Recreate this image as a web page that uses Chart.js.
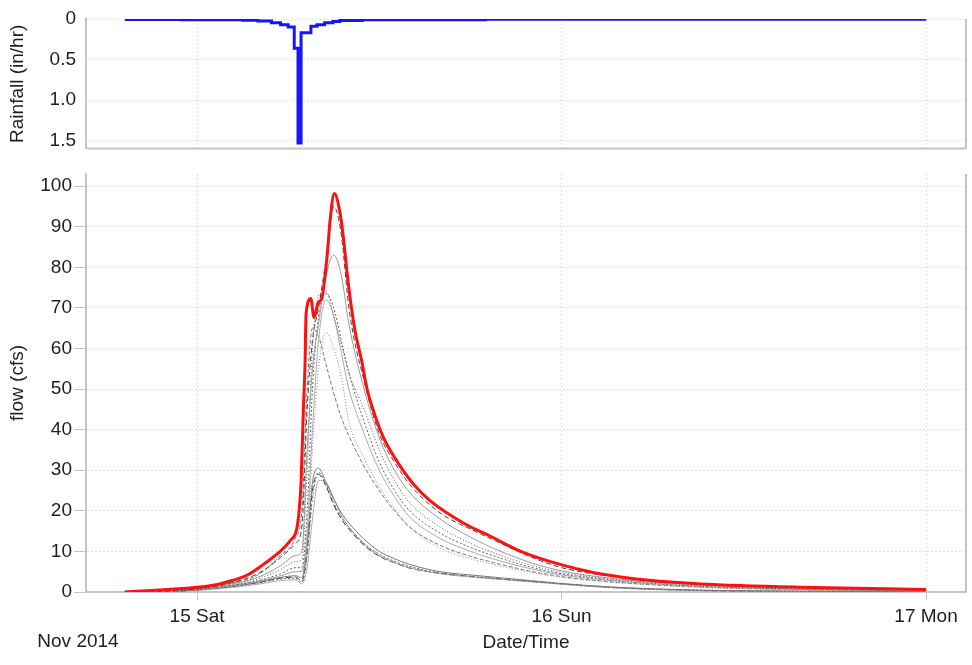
<!DOCTYPE html>
<html><head><meta charset="utf-8">
<script src="https://cdn.jsdelivr.net/npm/chart.js@4.4.1/dist/chart.umd.min.js"></script>
<style>
html,body{margin:0;padding:0;background:#fff;}
#wrap{position:relative;width:972px;height:665px;overflow:hidden;}
#c1{position:absolute;left:0;top:0;}
#c2{position:absolute;left:0;top:160px;}
</style></head><body>
<div id="wrap">
<canvas id="c1" width="972" height="160"></canvas>
<canvas id="c2" width="972" height="505"></canvas>
</div>
<script>
// ---- data (hours from 15 Nov 2014 00:00) ----
const xTickValues = [0, 24, 48];
const xTickLabels = ['15 Sat', '16 Sun', '17 Mon'];
const monthLabel = 'Nov 2014';

const rainTickValues = [0, 0.5, 1.0, 1.5];
const rainTickLabels = ['0', '0.5', '1.0', '1.5'];
const flowTickValues = [0,10,20,30,40,50,60,70,80,90,100];
const flowTickLabels = ['0','10','20','30','40','50','60','70','80','90','100'];

// rainfall (in/hr), stepped: value holds from time until next time
const rainTimes = [-4.75, -1.0, 3.0, 4.0, 4.9, 5.5, 6.0, 6.4, 6.65, 6.85, 7.5, 7.9, 8.4, 8.95, 9.4, 10.9, 19.0, 48];
const rainValues = [0.006, 0.009, 0.014, 0.025, 0.045, 0.07, 0.1, 0.36, 1.53, 0.17, 0.09, 0.07, 0.045, 0.03, 0.018, 0.01, 0.004, 0.004];

// observed flow (cfs), red
const redTimes = [-4.75, -2.44, -0.68, 1.05, 2.37, 3.27, 4.37, 5.47, 6.12, 6.56, 6.72, 6.85, 7.0, 7.11, 7.18, 7.49, 7.70, 7.99, 8.21, 8.58, 8.76, 9.04, 9.42, 9.63, 9.86, 10.07, 10.40, 10.84, 11.17, 11.61, 12.27, 13.15, 14.24, 15.34, 17.53, 19.29, 21.27, 23.9, 26.09, 28.51, 30.93, 33.12, 39.7, 48];
const redFlow = [0, 0.5, 0.9, 1.65, 2.9, 4.1, 6.8, 10, 12.6, 15.5, 20, 27, 44.7, 56, 68.6, 72.3, 67.7, 71.4, 72.3, 83.4, 91.6, 98.2, 93.3, 87.5, 79.3, 72.7, 64.4, 57, 50.4, 44.7, 38.1, 32.3, 26.6, 22.5, 17.0, 13.8, 10.1, 6.8, 4.8, 3.4, 2.5, 2.0, 1.2, 0.6];

// simulated flows (cfs), gray
const simTimes = [-4.75, -2, 0, 2, 4, 5.5, 6.5, 6.9, 7.25, 7.6, 8, 8.5, 9, 9.5, 10, 11, 12, 13, 14, 16, 18, 20, 22, 24, 27, 30, 34, 40, 48];
const sim1  = [0,0.2,0.8,2.0,4.5,8.5,12,16,45,62,70,82,95,88,70,52,39,32,26.5,19.5,15.5,12,8.6,6.0,4.0,2.7,1.8,1.1,0.5];
const sim2  = [0,0.2,0.8,1.8,3.6,6.5,9,10,35,55,66,78,83,78,66,50,38,30,24.5,18,13.5,10,7.2,5.2,3.5,2.4,1.6,0.9,0.4];
const sim3  = [0,0.2,0.7,1.6,3.2,5.5,7.5,8,30,60,73,74,68,61,54,45,35,27.5,22,16,12,9,6.6,4.8,3.3,2.3,1.5,0.8,0.4];
const sim4  = [0,0.1,0.6,1.5,2.8,4.5,6,6,20,50,68,73.5,70,62,54,42,32,25,20,14.5,11,8.3,6.1,4.5,3.1,2.1,1.3,0.7,0.3];
const sim5  = [0,0.1,0.6,1.4,2.6,4,5,5,15,40,62,72,68,59,50,39,30,23.5,18.5,13.2,10,7.6,5.7,4.2,2.9,2.0,1.2,0.6,0.3];
const sim6  = [0,0.2,0.8,2.0,4.2,9,13.5,20,50,65,63,56,49,43,38.5,31,25,20,16,11.5,8.8,6.8,5.1,3.8,2.6,1.8,1.1,0.6,0.2];
const sim7  = [0,0.1,0.6,1.4,2.7,4,5,5.5,12,35,55,64,60,53,42,33,26,20.5,16,10.8,8.2,6.4,4.8,3.6,2.5,1.7,1.0,0.5,0.2];
const sim8  = [0,0.1,0.5,1.3,2.4,3.6,4,3.5,12,27,30.5,27,23,19.5,17,13,10,8.2,6.8,5,4.2,3.5,2.8,2.1,1.3,0.8,0.4,0.2,0.1];
const sim9  = [0,0.1,0.5,1.2,2.2,3.2,3.4,2.4,9,23,29.5,26.5,22,18.5,16,12,9.3,7.6,6.3,4.7,3.9,3.2,2.6,2,1.2,0.7,0.4,0.2,0.1];
const sim10 = [0,0.1,0.4,1.0,1.9,2.8,3,2.0,6,18,27.5,27,23,19,16,11.8,9,7.3,6,4.5,3.7,3.1,2.5,1.9,1.1,0.6,0.3,0.1,0];
const sim11 = [0,0.1,0.5,1.2,2.3,3.4,3.7,2.6,10,25,29,26,21.5,18,15.5,11.5,8.8,7.2,5.9,4.6,3.8,3.2,2.6,2,1.2,0.7,0.3,0.1,0];

// ---- styles ----
const X_MIN = -7.31, X_MAX = 50.63;
const FONT = {family: "'Liberation Sans', Arial, sans-serif", size: 19};
const TXT = '#1e1e1e';
const GRID = '#e0e0e0';
const AXIS = '#c4c4c4';

const frame = {
  id: 'frame',
  afterDatasetsDraw(chart, args, opts) {
    const {ctx, chartArea: a} = chart;
    ctx.save();
    ctx.strokeStyle = AXIS; ctx.lineWidth = 2;
    ctx.beginPath();
    ctx.moveTo(a.right, a.top); ctx.lineTo(a.right, a.bottom);
    if (opts.bottom) { ctx.moveTo(a.left, a.bottom); ctx.lineTo(a.right, a.bottom); }
    ctx.stroke();
    if (opts.month) {
      ctx.fillStyle = TXT;
      ctx.font = FONT.size + 'px ' + FONT.family;
      ctx.textAlign = 'center'; ctx.textBaseline = 'middle';
      ctx.fillText(opts.month, 78, 482);
    }
    ctx.restore();
  }
};

const pts = (xs, ys) => xs.map((x, i) => ({x, y: ys[i]}));

// ---- rainfall chart ----
new Chart(document.getElementById('c1'), {
  type: 'line',
  data: {datasets: [{
    data: pts(rainTimes, rainValues),
    borderColor: '#1414ff', borderWidth: 3, pointRadius: 0, stepped: 'before', fill: false
  }]},
  options: {
    responsive: false, animation: false,
    layout: {padding: {top: 19, bottom: 11, left: 0, right: 6}},
    plugins: {legend: {display: false}, tooltip: {enabled: false}, frame: {bottom: true}},
    scales: {
      x: {
        type: 'linear', min: X_MIN, max: X_MAX,
        afterBuildTicks: s => { s.ticks = xTickValues.map(v => ({value: v})); },
        ticks: {display: false},
        grid: {color: GRID, drawTicks: false},
        border: {display: false, dash: [2, 2]},
        afterFit: s => { s.height = 0; }
      },
      y: {
        min: 0, max: 1.6, reverse: true,
        afterBuildTicks: s => { s.ticks = rainTickValues.map(v => ({value: v})); },
        ticks: {callback: (v, i) => rainTickLabels[i], font: FONT, color: TXT, padding: 0},
        grid: {color: GRID, drawTicks: true, tickLength: 10, tickColor: 'rgba(0,0,0,0)'},
        border: {color: AXIS, width: 2, dash: [2, 2]},
        title: {display: true, text: 'Rainfall (in/hr)', font: FONT, color: TXT, padding: {top: 6, bottom: 0}},
        afterFit: s => { s.width = 86; }
      }
    }
  },
  plugins: [frame]
});

// ---- flow chart ----
const simStyles = [
  {c: '#444', d: [5, 3]}, {c: '#999', d: []}, {c: '#555', d: [1, 2]}, {c: '#666', d: [2, 2]},
  {c: '#aaa', d: []}, {c: '#777', d: [4, 2]}, {c: '#888', d: [1, 2]}, {c: '#777', d: []},
  {c: '#666', d: [2, 2]}, {c: '#aaa', d: []}, {c: '#333', d: [6, 3]}
];
const sims = [sim1, sim2, sim3, sim4, sim5, sim6, sim7, sim8, sim9, sim10, sim11];
const datasets = [{
  data: pts(redTimes, redFlow), borderColor: '#ff1010', borderWidth: 3,
  pointRadius: 0, cubicInterpolationMode: 'monotone', fill: false
}];
sims.forEach((s, i) => datasets.push({
  data: pts(simTimes, s), borderColor: simStyles[i].c, borderDash: simStyles[i].d,
  borderWidth: 1, pointRadius: 0, cubicInterpolationMode: 'monotone', fill: false
}));

new Chart(document.getElementById('c2'), {
  type: 'line',
  data: {datasets},
  options: {
    responsive: false, animation: false,
    layout: {padding: {top: 14, bottom: 0, left: 0, right: 6}},
    plugins: {legend: {display: false}, tooltip: {enabled: false}, frame: {bottom: false, month: monthLabel}},
    scales: {
      x: {
        type: 'linear', min: X_MIN, max: X_MAX,
        afterBuildTicks: s => { s.ticks = xTickValues.map(v => ({value: v})); },
        ticks: {callback: (v, i) => xTickLabels[i], font: FONT, color: TXT, padding: 5, maxRotation: 0},
        grid: {color: GRID, tickColor: AXIS, tickLength: 8},
        border: {color: AXIS, width: 2, dash: [2, 2]},
        title: {display: true, text: 'Date/Time', font: FONT, color: TXT, padding: {top: 0, bottom: 11}},
        afterFit: s => { s.height = 73; }
      },
      y: {
        min: 0, max: 103,
        afterBuildTicks: s => { s.ticks = flowTickValues.map(v => ({value: v})); },
        ticks: {callback: (v, i) => flowTickLabels[i], font: FONT, color: TXT, padding: 2},
        grid: {color: GRID, tickColor: AXIS, tickLength: 12},
        border: {color: AXIS, width: 2, dash: [2, 2]},
        title: {display: true, text: 'flow (cfs)', font: FONT, color: TXT, padding: {top: 6, bottom: 0}},
        afterFit: s => { s.width = 86; }
      }
    }
  },
  plugins: [frame]
});
</script>
</body></html>
